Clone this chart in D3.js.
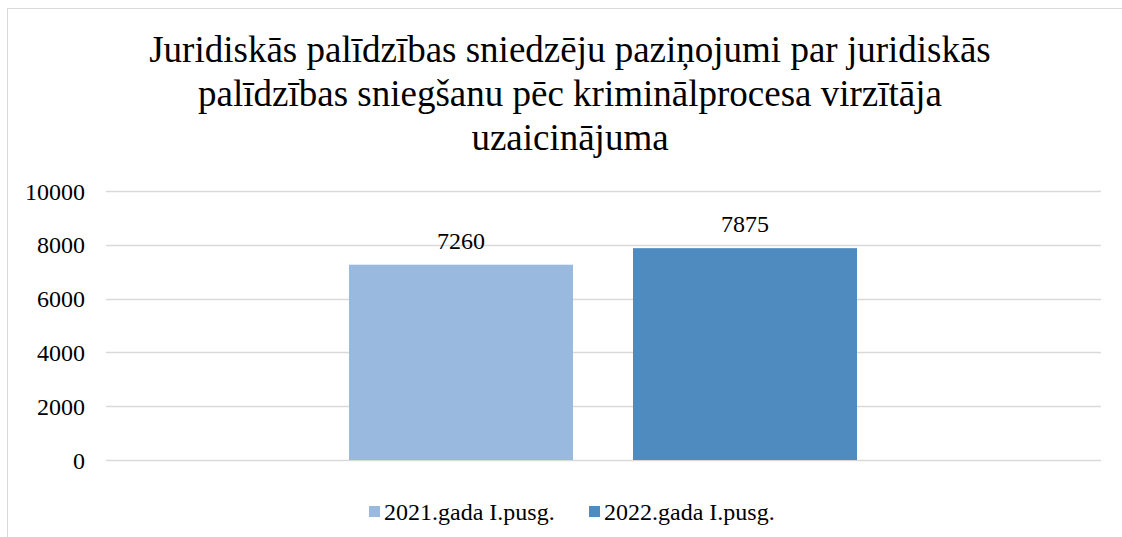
<!DOCTYPE html>
<html><head><meta charset="utf-8">
<script src="https://cdn.jsdelivr.net/npm/d3@7"></script>
<style>body{margin:0;background:#fff}svg{display:block}text{font-family:"Liberation Serif","Times New Roman",serif;fill:#000}</style>
</head><body><svg id="c" width="1122" height="537"></svg>
<script>
const titleLines = ["Juridiskās palīdzības sniedzēju paziņojumi par juridiskās","palīdzības sniegšanu pēc kriminālprocesa virzītāja","uzaicinājuma"];
const seriesNames = ["2021.gada I.pusg.","2022.gada I.pusg."];
const seriesValues = [7260, 7875];
const seriesColors = ["#9AB9DF","#4F8BBF"];
const yTicks = [0,2000,4000,6000,8000,10000];

const svg = d3.select("#c");
svg.append("rect").attr("x",7.5).attr("y",8.5).attr("width",1130).attr("height",540)
  .attr("fill","#fff").attr("stroke","#d9d9d9").attr("stroke-width",1);

const t = svg.append("text").attr("text-anchor","middle").style("font-size","37px");
titleLines.forEach((l,i)=>t.append("tspan").attr("x",570).attr("y",62+i*44).text(l));

const y = d3.scaleLinear().domain([0,10000]).range([460,191]);

const g = svg.append("g");
g.selectAll("line.grid").data(yTicks).join("line")
  .attr("x1",106).attr("x2",1101).attr("y1",d=>Math.round(y(d))+0.5).attr("y2",d=>Math.round(y(d))+0.5)
  .attr("stroke","#d9d9d9").attr("stroke-width",1.5);
g.selectAll("text.tick").data(yTicks).join("text")
  .attr("x",85).attr("y",d=>y(d)+8.5).attr("text-anchor","end").style("font-size","24px").text(d=>d);

const bw = 224;
const bx = d3.scalePoint().domain(seriesNames).range([349,633]);
g.selectAll("rect.bar").data(seriesValues).join("rect")
  .attr("x",(d,i)=>bx(seriesNames[i])).attr("width",bw)
  .attr("y",d=>y(d)).attr("height",d=>y(0)-y(d)).attr("fill",(d,i)=>seriesColors[i]);
g.selectAll("text.lab").data(seriesValues).join("text")
  .attr("x",(d,i)=>bx(seriesNames[i])+bw/2).attr("y",d=>y(d)-16).attr("text-anchor","middle")
  .style("font-size","24px").text(d=>d);

const legX = [369,589];
const lg = svg.append("g");
seriesNames.forEach((n,i)=>{
  lg.append("rect").attr("x",legX[i]).attr("y",506).attr("width",11).attr("height",11).attr("fill",seriesColors[i]);
  lg.append("text").attr("x",legX[i]+15).attr("y",520).style("font-size","24px").text(n);
});
</script></body></html>
